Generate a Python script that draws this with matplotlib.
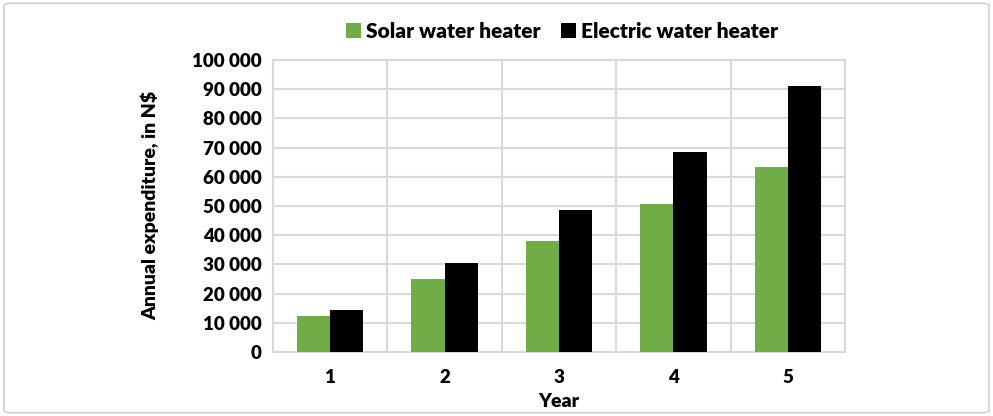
import numpy as np
import matplotlib.pyplot as plt
from matplotlib.patches import FancyBboxPatch

# donnees
years = [1, 2, 3, 4, 5]
solar = [12300, 25100, 38000, 50700, 63400]
electric = [14400, 30500, 48600, 68500, 91100]
series_names = ["Solar water heater", "Electric water heater"]
yticks = np.arange(0, 100001, 10000)

plt.rcParams['font.family'] = ['Lato', 'DejaVu Sans']
plt.rcParams['font.weight'] = 'bold'

fig = plt.figure(figsize=(9.93, 4.16), dpi=100)
ax = fig.add_axes([0.275, 0.154, 0.576, 0.702])

# cadre arrondi autour du graphique
frame = FancyBboxPatch((0.004, 0.008), 0.992, 0.984, boxstyle="round,pad=0,rounding_size=0.006",
                       transform=fig.transFigure, facecolor='white', edgecolor='#d0d0d0', lw=1.2, zorder=-1)
fig.patches.append(frame)

x = np.array(years)
w = 0.29
ax.bar(x - w / 2, solar, w, color='#70ad47', label=series_names[0], zorder=3)
ax.bar(x + w / 2, electric, w, color='black', label=series_names[1], zorder=3)

ax.set_xlim(0.5, 5.5)
ax.set_ylim(0, 100000)
ax.set_yticks(yticks)
ax.set_yticklabels([f"{v:,}".replace(",", " ") for v in yticks], fontsize=13.5, fontweight='heavy')
ax.set_xticks(x)
ax.set_xticklabels([str(v) for v in years], fontsize=13.5, fontweight='heavy')
ax.set_xticks(np.arange(1.5, 5, 1), minor=True)

ax.grid(axis='y', color='#d9d9d9', lw=1.5, zorder=0)
ax.grid(axis='x', which='minor', color='#d9d9d9', lw=1.5, zorder=0)
ax.tick_params(axis='both', which='both', length=0)
ax.tick_params(axis='x', pad=12)
ax.tick_params(axis='y', pad=8)
for s in ax.spines.values():
    s.set_color('#d9d9d9')
    s.set_linewidth(1.5)

ax.set_xlabel("Year", fontsize=14, fontweight='heavy')
ax.xaxis.set_label_coords(0.5, -0.14)
ax.set_ylabel("Annual expenditure, in N$", fontsize=14, fontweight='heavy', labelpad=24)

fig.legend(loc='center', bbox_to_anchor=(0.566, 0.925), ncol=2, frameon=False,
           prop={'size': 15, 'weight': 'heavy'}, handlelength=0.7, handleheight=0.7,
           handletextpad=0.25, columnspacing=1.0)

fig.savefig("out.png", dpi=100)
